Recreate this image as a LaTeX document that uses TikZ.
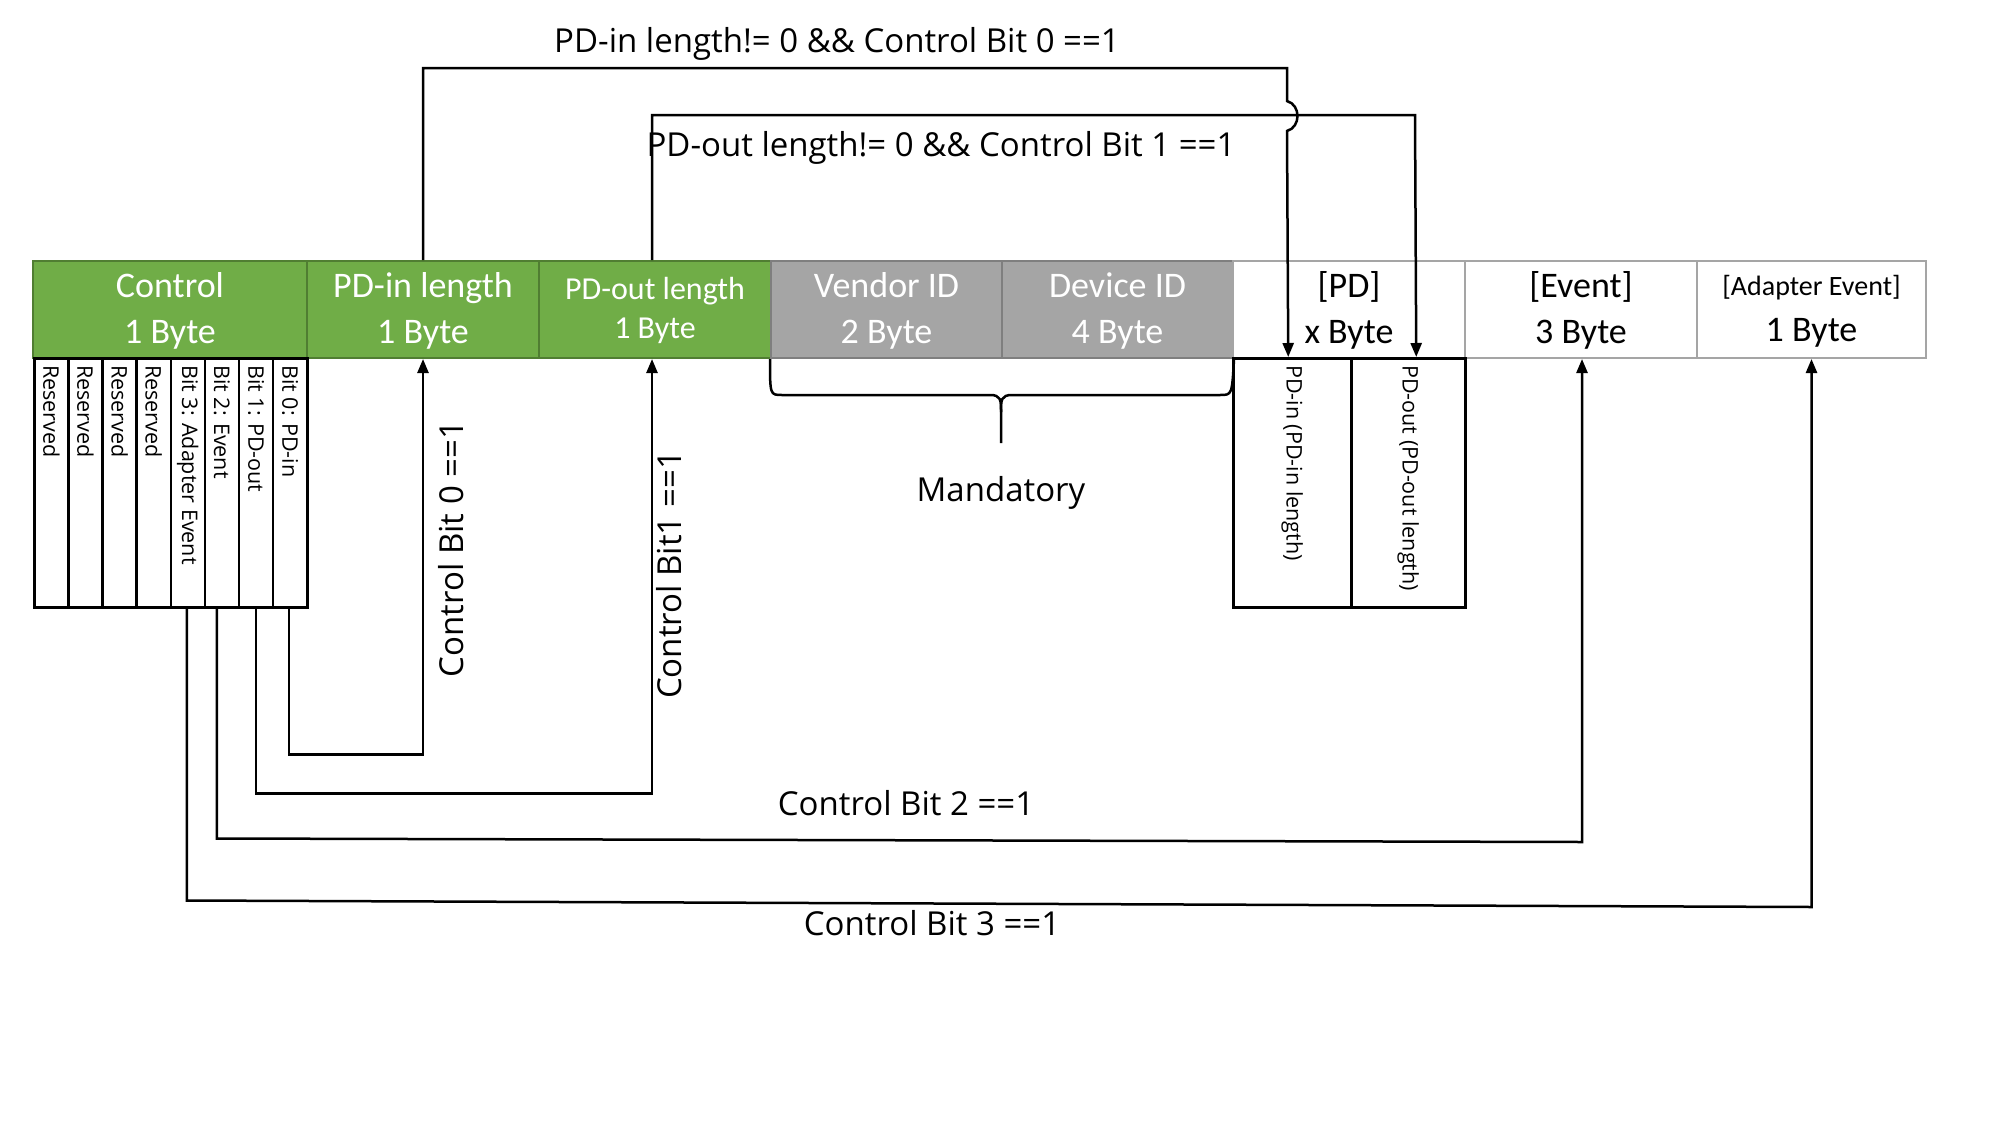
\documentclass[tikz,border=0pt]{standalone}
\usepackage{fontspec}
\setmainfont{Open Sans}
\newfontfamily\calfont{Carlito}
\usetikzlibrary{arrows.meta,calc}
\definecolor{gfill}{HTML}{70AD47}
\definecolor{gline}{HTML}{507E32}
\definecolor{yfill}{HTML}{A5A5A5}
\definecolor{yline}{HTML}{7F7F7F}
\definecolor{wline}{HTML}{A5A5A5}
\newcommand{\topstrut}{\rule{0pt}{28pt}}
\tikzset{
  mainbox/.style={line width=2pt, minimum height=97pt, inner sep=0pt, align=center, anchor=north west,
    font=\calfont\fontsize{36}{46}\selectfont},
  gbox/.style={mainbox, draw=gline, fill=gfill, text=white},
  ybox/.style={mainbox, draw=yline, fill=yfill, text=white},
  wbox/.style={mainbox, draw=wline, fill=white, text=black},
  bitbox/.style={draw=black, line width=2.5pt, minimum width=34.125pt, minimum height=249pt, inner sep=0pt, anchor=north west},
  subbox/.style={draw=black, line width=2.5pt, minimum height=249pt, inner sep=0pt, anchor=north west},
  small/.style={rotate=-90, anchor=west, inner sep=0pt, font=\fontsize{21.5}{21.5}\selectfont},
  lbl/.style={inner sep=0pt, font=\fontsize{33}{33}\selectfont},
  conn/.style={line width=2.5pt},
  arr/.style={line width=2.5pt, -{Triangle[length=14pt,width=11pt]}}
}
\begin{document}
\begin{tikzpicture}[x=1pt,y=-1pt]
\useasboundingbox[fill=white] (0,0) rectangle (2002,1127);

% main row
\node[gbox, minimum width=274pt] (ctrl) at (32,260) {\topstrut Control\\1 Byte};
\node[gbox, minimum width=232pt] (pdin) at (306,260) {\topstrut PD-in length\\1 Byte};
\node[gbox, minimum width=232pt, font=\calfont\fontsize{32}{39}\selectfont] (pdout) at (538,260) {\rule{0pt}{25pt}PD-out length\\1 Byte};
\node[ybox, minimum width=231pt] (vendor) at (770,260) {\topstrut Vendor ID\\2 Byte};
\node[ybox, minimum width=231pt] (device) at (1001,260) {\topstrut Device ID\\4 Byte};
\node[wbox, minimum width=232pt] (pd) at (1232,260) {\topstrut [PD]\\x Byte};
\node[wbox, minimum width=232pt] (event) at (1464,260) {\topstrut [Event]\\3 Byte};
\node[wbox, minimum width=229pt] (adapter) at (1696,260) {{\fontsize{28}{28}\selectfont\rule{0pt}{23pt}[Adapter Event]}\\1 Byte};

% control bits
\node[bitbox] (r7) at (33,357) {};
\node[bitbox] (r6) at (67.125,357) {};
\node[bitbox] (r5) at (101.25,357) {};
\node[bitbox] (r4) at (135.375,357) {};
\node[bitbox] (bit3) at (169.5,357) {};
\node[bitbox] (bit2) at (203.625,357) {};
\node[bitbox] (bit1) at (237.75,357) {};
\node[bitbox] (bit0) at (271.875,357) {};
\node[small] (tr7) at ([yshift=-8pt]r7.north) {Reserved};
\node[small] (tr6) at ([yshift=-8pt]r6.north) {Reserved};
\node[small] (tr5) at ([yshift=-8pt]r5.north) {Reserved};
\node[small] (tr4) at ([yshift=-8pt]r4.north) {Reserved};
\node[small] (tb3) at ([yshift=-8pt]bit3.north) {Bit 3: Adapter Event};
\node[small] (tb2) at ([yshift=-8pt]bit2.north) {Bit 2: Event};
\node[small] (tb1) at ([yshift=-8pt]bit1.north) {Bit 1: PD-out};
\node[small] (tb0) at ([yshift=-8pt]bit0.north) {Bit 0: PD-in};

% PD sub boxes
\node[subbox, minimum width=118pt] (pdsi) at (1232,357) {};
\node[subbox, minimum width=114pt] (pdso) at (1350,357) {};
\node[small] (tpdi) at ([yshift=-8pt]pdsi.north) {PD-in (PD-in length)};
\node[small] (tpdo) at ([yshift=-8pt]pdso.north) {PD-out (PD-out length)};

% brace
\draw[conn] (vendor.south west) .. controls (770,395) and (770,395) .. (782,395) -- (990,395)
  .. controls (1001,395) and (1001,400) .. (1001,412) -- (1001,443);
\draw[conn] (device.south east) .. controls (1232,395) and (1232,395) .. (1220,395) -- (1012,395)
  .. controls (1001,395) and (1001,400) .. (1001,412);
\node[lbl] (mand) at (1001,493) {Mandatory};

% bottom connectors
\draw[arr] ([xshift=-1pt]bit0.south) -- ++(0,146) -| (pdin.south);
\draw[arr] (bit1.south) -- ++(0,185) -| ([xshift=-3pt]pdout.south);
\coordinate (e2) at ($(event.south)+(1,483)$);
\draw[arr] ([xshift=-5pt]bit2.south) -- ++(0,230) -- (e2) -- ([xshift=1pt]event.south);
\coordinate (e3) at ($(adapter.south)+(0,548)$);
\draw[arr] ([xshift=-1pt]bit3.south) -- ++(0,292) -- (e3) -- (adapter.south);

\node[lbl, rotate=90] (c0) at (451,549) {Control Bit 0 ==1};
\node[lbl, rotate=90] (c1) at (669,575) {Control Bit1 ==1};
\node[lbl] (c2) at (906,803) {Control Bit 2 ==1};
\node[lbl] (c3) at (932,923) {Control Bit 3 ==1};

% top connectors
\coordinate (j1a) at (1287,68);
\coordinate (j1b) at (1287,101);
\coordinate (j1c) at (1287,131);
\draw[arr] (pdin.north) |- (j1a) -- (j1b) .. controls +(14,4) and +(14,-4) .. (j1c) -- ([xshift=-4pt]pdsi.north);
\coordinate (j2) at (1415,115);
\draw[arr] ([xshift=-3pt]pdout.north) |- (j2) -- ([xshift=8pt]pdso.north);

\node[lbl] (t1) at (837,44) {PD-in length!= 0 \&\& Control Bit 0 ==1};
\node[lbl] (t2) at (941,148) {PD-out length!= 0 \&\& Control Bit 1 ==1};
\end{tikzpicture}
\end{document}
